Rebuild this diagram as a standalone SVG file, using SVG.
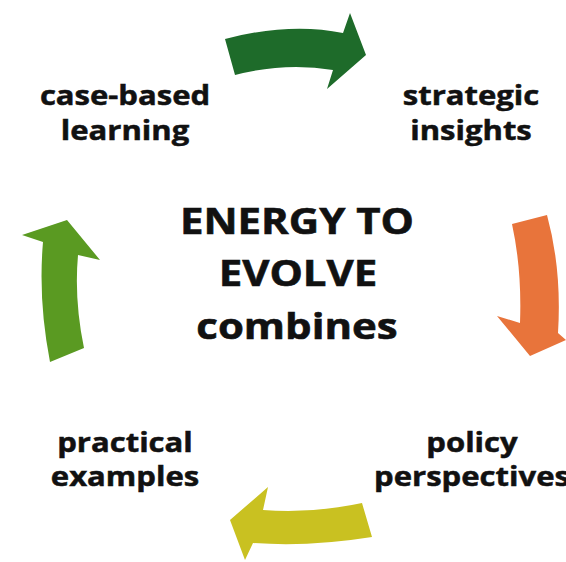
<svg xmlns="http://www.w3.org/2000/svg" width="566" height="562" viewBox="0 0 566 562">
<style>
.lbl{font-family:"Open Sans","Liberation Sans",sans-serif;font-weight:700;font-size:27px;fill:#111;stroke:#111;stroke-width:0.5;text-anchor:middle}
.ttl{font-family:"Open Sans","Liberation Sans",sans-serif;font-weight:700;font-size:36.5px;fill:#111;stroke:#111;stroke-width:0.6;text-anchor:middle}
</style>
<rect width="566" height="562" fill="#ffffff"/>
<g id="connectors">
<path id="arrow-top" fill="#1e6b2a" d="M225,39 Q290,22 343,33 L350,13 L366,55 L327,89 L333,70 Q285,62 235,75 Z"/>
<path id="arrow-right" fill="#e8743b" d="M512,224 L547,215 Q562,270 558,333 L566,340 L530,356 L497,316 L520,323 Q522,270 512,224 Z"/>
<path id="arrow-bottom" fill="#c9c121" d="M362,503 L372,537 Q310,547 253,543 L245,560 L230,520 L268,487 L263,510 Q310,514 362,503 Z"/>
<path id="arrow-left" fill="#5a9a22" d="M50,362 L84,348 Q74,300 78,255 L100,260 L67,220 L22,235 L43,242 Q38,300 50,362 Z"/>
</g>
<g id="center">
<text class="ttl" transform="matrix(1.15 0 0 1 297 234)">ENERGY TO</text>
<text class="ttl" transform="matrix(1.15 0 0 1 298 286)">EVOLVE</text>
<text class="ttl" transform="matrix(1.15 0 0 1 297 339)">combines</text>
</g>
<g id="node-case-based">
<text class="lbl" transform="matrix(1.15 0 0 1 125 105)">case-based</text>
<text class="lbl" transform="matrix(1.15 0 0 1 125 140)">learning</text>
</g>
<g id="node-strategic">
<text class="lbl" transform="matrix(1.15 0 0 1 471 105)">strategic</text>
<text class="lbl" transform="matrix(1.15 0 0 1 471 140)">insights</text>
</g>
<g id="node-policy">
<text class="lbl" transform="matrix(1.15 0 0 1 472 452)">policy</text>
<text class="lbl" transform="matrix(1.15 0 0 1 472 486)">perspectives</text>
</g>
<g id="node-practical">
<text class="lbl" transform="matrix(1.15 0 0 1 125 452)">practical</text>
<text class="lbl" transform="matrix(1.15 0 0 1 125 486)">examples</text>
</g>
</svg>
